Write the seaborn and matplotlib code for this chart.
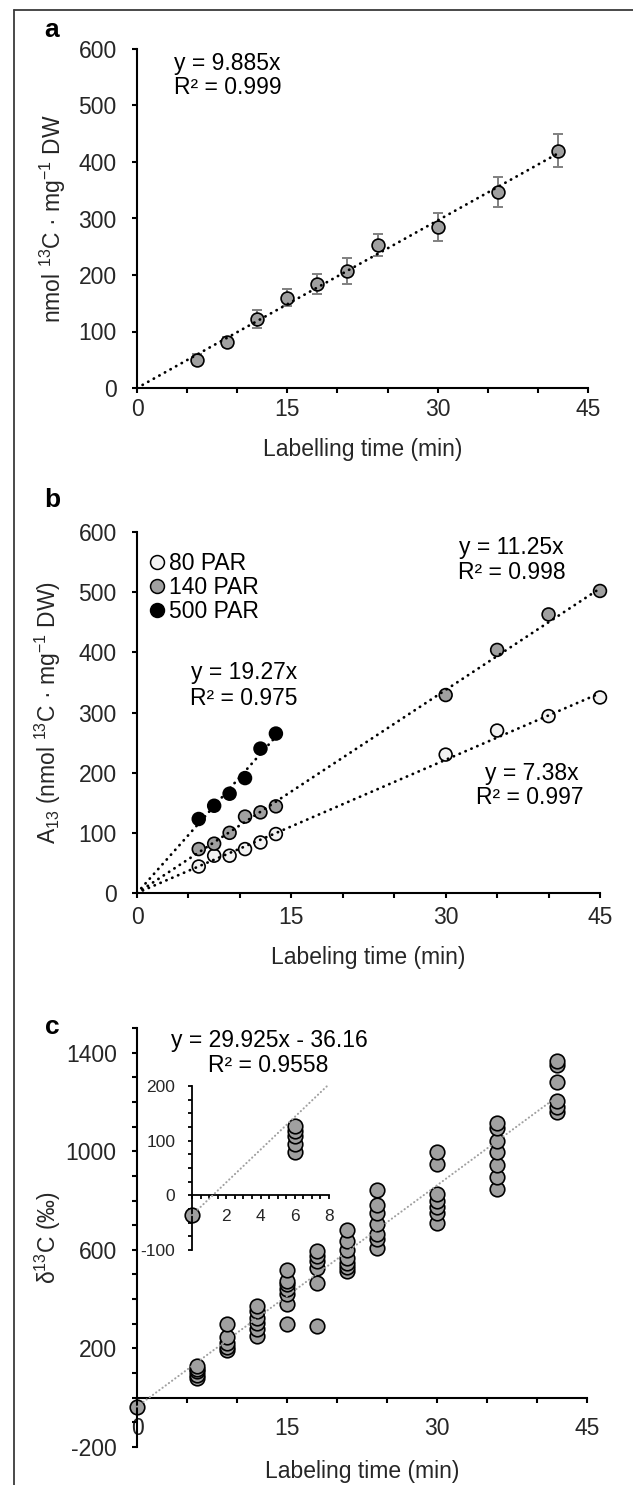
import numpy as np
import pandas as pd
import seaborn as sns
import matplotlib.pyplot as plt
from matplotlib.lines import Line2D
from matplotlib.ticker import MultipleLocator, FixedLocator

# ---- values ----
# a: 13C accumulation during labelling (mean +/- sd)
time_a = [6, 9, 12, 15, 18, 21, 24, 30, 36, 42]
uptake_a = [50, 82, 122, 160, 184, 207, 253, 285, 347, 420]
sd_a = [10, 9, 16, 15, 17, 23, 20, 24, 27, 29]
slope_a = 9.885

# b: three light intensities
time_b = [6, 7.5, 9, 10.5, 12, 13.5, 30, 35, 40, 45]
time_b_500 = [6, 7.5, 9, 10.5, 12, 13.5]
a13_par80 = [44, 62, 62, 73, 84, 98, 230, 270, 294, 325]
a13_par140 = [73, 82, 100, 127, 134, 144, 329, 404, 463, 502]
a13_par500 = [123, 145, 165, 191, 240, 265]
par_levels = ['80 PAR', '140 PAR', '500 PAR']
par_colors = ['#f2f2f2', '#a0a0a0', '#000000']
par_slopes = [7.38, 11.25, 19.27]
par_fit_end = [45, 45, 14]

# c: single-sample delta13C values
time_c = [0, 6, 9, 12, 15, 18, 21, 24, 30, 36, 42]
delta_c = [
    [-36],
    [80, 93, 109, 118, 127],
    [195, 205, 220, 245, 300],
    [250, 280, 305, 325, 350, 372],
    [300, 380, 420, 440, 460, 475, 520],
    [292, 466, 527, 555, 575, 595],
    [515, 530, 545, 565, 600, 635, 680],
    [607, 645, 665, 705, 750, 780, 842],
    [710, 750, 775, 800, 825, 950, 995],
    [845, 895, 945, 995, 1040, 1095, 1115],
    [1160, 1180, 1205, 1280, 1350, 1365],
]
slope_c, icpt_c = 29.925, -36.16

# ---- style ----
sns.set_theme(style='ticks')
plt.rcParams['font.family'] = ['Liberation Sans', 'DejaVu Sans']
plt.rcParams['mathtext.fontset'] = 'custom'
plt.rcParams['mathtext.rm'] = 'Liberation Sans'
plt.rcParams['mathtext.it'] = 'Liberation Sans:italic'
plt.rcParams['mathtext.bf'] = 'Liberation Sans:bold'
plt.rcParams['axes.unicode_minus'] = False
plt.rcParams['axes.linewidth'] = 1.5
plt.rcParams['axes.edgecolor'] = 'black'
plt.rcParams['text.color'] = 'black'
FS = 16.5

W, H = 633, 1485
fig = plt.figure(figsize=(W / 100, H / 100), dpi=100)


def px_axes(left, right, top, bottom):
    return fig.add_axes([left / W, 1 - bottom / H, (right - left) / W, (bottom - top) / H])


ax_a = px_axes(137, 588, 49, 388)
ax_b = px_axes(137, 600, 532, 893)
ax_c = px_axes(137, 587, 1028, 1447)
ax_in = px_axes(192, 329, 1086, 1250)


def fit_line(ax, x0, x1, slope, icpt=0.0, color='black', lw=2.0, gap=2.2):
    xs = np.array([x0, x1])
    ax.plot(xs, slope * xs + icpt, color=color, lw=lw, ls=(0, (0.1, gap)),
            dash_capstyle='round', zorder=4, clip_on=False)


def style_axes(ax, ylim, xpad):
    ax.set_xlim(0, 45)
    ax.set_ylim(*ylim)
    ax.xaxis.set_major_locator(FixedLocator([0, 15, 30, 45]))
    ax.xaxis.set_minor_locator(MultipleLocator(5))
    ax.tick_params(which='both', direction='out', length=3.6, width=1.5, color='black')
    ax.tick_params(axis='x', labelsize=FS, pad=xpad)
    ax.tick_params(axis='y', labelsize=FS, pad=11)
    ax.set_facecolor('none')
    sns.despine(ax=ax)


# ---- a ----
ax_a.errorbar(time_a, uptake_a, yerr=sd_a, fmt='none', ecolor='#808080',
              elinewidth=1.4, capsize=3.5, capthick=1.4, zorder=2)
sns.scatterplot(x=time_a, y=uptake_a, ax=ax_a, s=85, color='#a0a0a0',
                edgecolor='black', linewidth=1.2, zorder=3, clip_on=False)
fit_line(ax_a, 0, 42, slope_a)
style_axes(ax_a, (0, 600), 3.6)
ax_a.yaxis.set_major_locator(MultipleLocator(100))
ax_a.set_xlabel('Labelling time (min)', fontsize=FS)
ax_a.set_ylabel(r'nmol $\mathregular{^{13}}$C · mg$\mathregular{^{-1}}$ DW', fontsize=FS)
ax_a.xaxis.set_label_coords(0.5, -0.147)
ax_a.yaxis.set_label_coords(-0.153, 0.5)
ax_a.text(3.7, 575, 'y = 9.885x', fontsize=FS, ha='left', va='center')
ax_a.text(3.7, 531, 'R² = 0.999', fontsize=FS, ha='left', va='center')

# ---- b ----
df_b = pd.concat([
    pd.DataFrame({'time': time_b, 'A13': a13_par80, 'light': '80 PAR'}),
    pd.DataFrame({'time': time_b, 'A13': a13_par140, 'light': '140 PAR'}),
    pd.DataFrame({'time': time_b_500, 'A13': a13_par500, 'light': '500 PAR'}),
])
sns.scatterplot(data=df_b, x='time', y='A13', hue='light', hue_order=par_levels,
                palette=dict(zip(par_levels, par_colors)), s=85, edgecolor='black',
                linewidth=1.2, legend=False, ax=ax_b, zorder=3, clip_on=False)
for slope, xend in zip(par_slopes, par_fit_end):
    fit_line(ax_b, 0, xend, slope)
style_axes(ax_b, (0, 600), 5.8)
ax_b.yaxis.set_major_locator(MultipleLocator(100))
ax_b.set_xlabel('Labeling time (min)', fontsize=FS)
ax_b.set_ylabel(r'A$\mathregular{_{13}}$ (nmol $\mathregular{^{13}}$C · mg$\mathregular{^{-1}}$ DW)',
                fontsize=FS)
ax_b.xaxis.set_label_coords(0.5, -0.147)
ax_b.yaxis.set_label_coords(-0.16, 0.5)
handles = [Line2D([], [], ls='', marker='o', markersize=10, markerfacecolor=c,
                  markeredgecolor='black', markeredgewidth=1.1) for c in par_colors]
ax_b.legend(handles, par_levels, loc='upper left', bbox_to_anchor=(0.026, 0.945),
            frameon=False, handlelength=0.7, handletextpad=0.15, labelspacing=0.05,
            borderpad=0, borderaxespad=0, fontsize=FS)
ax_b.text(36.4, 575, 'y = 11.25x', fontsize=FS, ha='center', va='center')
ax_b.text(36.4, 533, 'R² = 0.998', fontsize=FS, ha='center', va='center')
ax_b.text(10.4, 367, 'y = 19.27x', fontsize=FS, ha='center', va='center')
ax_b.text(10.4, 324, 'R² = 0.975', fontsize=FS, ha='center', va='center')
ax_b.text(38.4, 199, 'y = 7.38x', fontsize=FS, ha='center', va='center')
ax_b.text(38.2, 158, 'R² = 0.997', fontsize=FS, ha='center', va='center')

# ---- c ----
df_c = pd.DataFrame({
    'time': np.repeat(time_c, [len(v) for v in delta_c]),
    'delta': np.concatenate(delta_c),
})
sns.scatterplot(data=df_c, x='time', y='delta', ax=ax_c, s=110, color='#a0a0a0',
                edgecolor='black', linewidth=1.2, zorder=2, clip_on=False)
fit_line(ax_c, 0, 42, slope_c, icpt_c, color='#a0a0a0', lw=1.5, gap=1.8)
style_axes(ax_c, (-200, 1500), 10)
ax_c.spines['bottom'].set_position(('data', 0))
ax_c.yaxis.set_major_locator(FixedLocator([-200, 200, 600, 1000, 1400]))
ax_c.yaxis.set_minor_locator(MultipleLocator(100))
ax_c.set_xlabel('Labeling time (min)', fontsize=FS)
ax_c.set_ylabel(r'δ$\mathregular{^{13}}$C (‰)', fontsize=FS)
ax_c.xaxis.set_label_coords(0.5, -0.031)
ax_c.yaxis.set_label_coords(-0.164, 0.5)
ax_c.text(13.2, 1448, 'y = 29.925x - 36.16', fontsize=FS, ha='center', va='center')
ax_c.text(13.1, 1347, 'R² = 0.9558', fontsize=FS, ha='center', va='center')

# inset: first minutes
sns.scatterplot(data=df_c[df_c['time'] <= 8], x='time', y='delta', ax=ax_in, s=110,
                color='#a0a0a0', edgecolor='black', linewidth=1.2, zorder=2, clip_on=False)
fit_line(ax_in, 0, 8, slope_c, icpt_c, color='#a0a0a0', lw=1.5, gap=1.8)
ax_in.set_xlim(0, 8)
ax_in.set_ylim(-100, 200)
ax_in.spines['bottom'].set_position(('data', 0))
ax_in.xaxis.set_major_locator(MultipleLocator(2))
ax_in.xaxis.set_minor_locator(MultipleLocator(0.5))
ax_in.yaxis.set_major_locator(MultipleLocator(100))
ax_in.yaxis.set_minor_locator(MultipleLocator(25))
ax_in.tick_params(which='both', direction='out', length=3, width=1.3, color='black')
ax_in.tick_params(axis='x', labelsize=12.5, pad=7)
ax_in.tick_params(axis='y', labelsize=12.5, pad=9)
for side in ['left', 'bottom']:
    ax_in.spines[side].set_linewidth(1.3)
ax_in.set_xlabel('')
ax_in.set_ylabel('')
ax_in.set_facecolor('none')
sns.despine(ax=ax_in)

# panel letters and outer frame
for letter, ypix in zip(['a', 'b', 'c'], [30, 500, 1027]):
    fig.text(52 / W, 1 - ypix / H, letter, fontsize=19, fontweight='bold',
             ha='center', va='center')
fig.add_artist(Line2D([14 / W, 14 / W], [0, 1 - 10 / H], color='#3a3a3a', lw=1.3,
                      transform=fig.transFigure))
fig.add_artist(Line2D([14 / W, 1], [1 - 10 / H, 1 - 10 / H], color='#3a3a3a', lw=1.3,
                      transform=fig.transFigure))

fig.savefig('out.png', dpi=100)
